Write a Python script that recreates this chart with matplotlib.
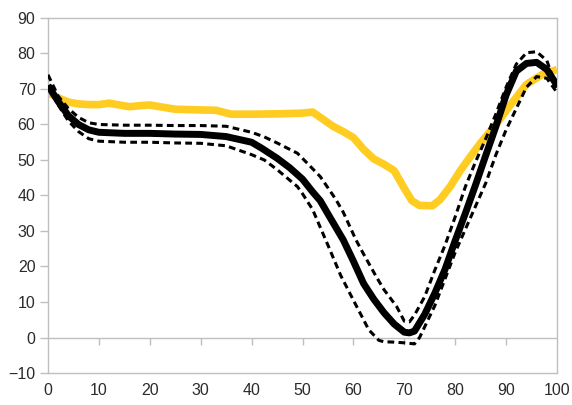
import matplotlib
matplotlib.use("Agg")
import matplotlib.pyplot as plt

plt.rcParams['font.family'] = ['Liberation Sans', 'DejaVu Sans']

# Mean curve
x_mean = [0, 2, 4, 6, 8, 10, 15, 20, 25, 30, 35, 40, 42, 45, 47.5, 50, 52, 53.5, 55, 58, 60,
          62, 64, 66, 68, 70, 71, 72, 74, 76, 78, 80, 82, 84, 86, 88, 90, 92, 94, 96, 98, 100]
y_mean = [71, 66.5, 62.5, 60, 58.5, 57.8, 57.5, 57.5, 57.3, 57.2, 56.6, 55, 53.3, 50.5, 47.8,
          44.6, 41, 38.5, 34.8, 27.5, 21.5, 15.2, 10.8, 7, 3.8, 1.5, 1.3, 1.8, 6.5, 12.5, 19.2,
          27.3, 35, 43, 51.3, 59.5, 68.3, 75, 77.2, 77.5, 75.5, 71]

# Upper band (+1 SD)
x_upper = [0, 2, 4, 6, 8, 10, 15, 20, 25, 30, 35, 40, 42.5, 45, 49, 51, 53.5, 56.5, 58, 60.5,
           62, 64.5, 66, 68.5, 70, 71, 72, 74, 76, 78, 80, 82, 84, 86, 88, 90, 92, 94, 96, 98,
           100]
y_upper = [74, 68, 64.5, 62, 60.5, 60, 59.8, 59.8, 59.7, 59.7, 59.5, 57.8, 56.5, 54.8, 51.9,
           49, 45.3, 39, 35.3, 27.5, 23.5, 17.1, 13.5, 8.7, 4.6, 4.4, 6.3, 11.5, 19, 26, 34,
           42.5, 49.5, 56, 63, 70.5, 77, 80.2, 80.5, 78, 70]

# Lower band (-1 SD)
x_lower = [0, 2, 4, 6, 8, 10, 15, 20, 25, 30, 35, 40, 42.5, 45, 49, 50, 52, 55, 57.5, 60, 62,
           63, 65, 66, 68, 70, 72, 73, 74, 76, 78, 80, 82, 84, 86, 88, 90, 92, 94, 96, 98, 100]
y_lower = [71, 65.5, 61, 58, 56, 55.3, 55, 55, 54.8, 54.7, 54, 51.5, 50, 47.3, 42.5, 40.5, 36,
           26, 17.5, 10.5, 5, 2.2, -0.8, -1.2, -1.3, -1.5, -1.8, 0, 3, 9, 16.5, 24, 30.5, 37,
           43.5, 51.5, 58.5, 64.5, 70.5, 73.5, 73, 69]

# Comparison curve
x_comp = [0, 2, 4, 6, 8, 10, 12, 14, 16, 18, 20, 22, 25, 30, 33, 36, 40, 45, 50, 52, 54, 56,
          58, 60, 62, 64, 66, 68, 70, 71.5, 73, 75.5, 77, 79, 81, 83, 85, 88, 91, 94, 97, 100]
y_comp = [69, 67.5, 66.3, 65.8, 65.6, 65.6, 66, 65.5, 65, 65.3, 65.5, 65, 64.3, 64.1, 64,
          62.9, 62.9, 63, 63.2, 63.5, 61.5, 59.5, 58, 56.3, 53, 50.3, 48.8, 47, 42, 38.5, 37.2,
          37.1, 38.8, 42.5, 47, 51, 54.8, 60, 65.8, 71.3, 74, 75.5]

x_ticks = [0, 10, 20, 30, 40, 50, 60, 70, 80, 90, 100]
y_ticks = [-10, 0, 10, 20, 30, 40, 50, 60, 70, 80, 90]

grey = '#BFBFBF'
text_col = '#2b2b2b'

fig = plt.figure(figsize=(5.72, 4.05), dpi=100)
ax = fig.add_axes([0.0839, 0.079, 0.8899, 0.8766])

ax.plot(x_comp, y_comp, color='#FFCC22', lw=5.5, solid_joinstyle='round',
        solid_capstyle='butt', zorder=2)
ax.plot(x_upper, y_upper, color='black', lw=2.2, ls=(0, (2.2, 1.4)), zorder=3)
ax.plot(x_lower, y_lower, color='black', lw=2.2, ls=(0, (2.2, 1.4)), zorder=3)
ax.plot(x_mean, y_mean, color='black', lw=5.0, solid_joinstyle='round',
        solid_capstyle='butt', zorder=4)

ax.set_xlim(0, 100)
ax.set_ylim(-10, 90)
ax.set_xticks(x_ticks)
ax.set_yticks(y_ticks)

for s in ax.spines.values():
    s.set_color(grey)
    s.set_linewidth(1.0)

# horizontal axis line at zero with its tick marks
ax.axhline(0, color=grey, lw=1.0, zorder=1)
ax.vlines(x_ticks[1:-1], -2.2, 0, color=grey, lw=1.0, zorder=1)

ax.tick_params(axis='x', length=0, pad=7, labelsize=11.5, labelcolor=text_col)
ax.tick_params(axis='y', length=6, width=1.0, color=grey, pad=3, labelsize=11.5,
               labelcolor=text_col)

fig.savefig('out.png', dpi=100)
